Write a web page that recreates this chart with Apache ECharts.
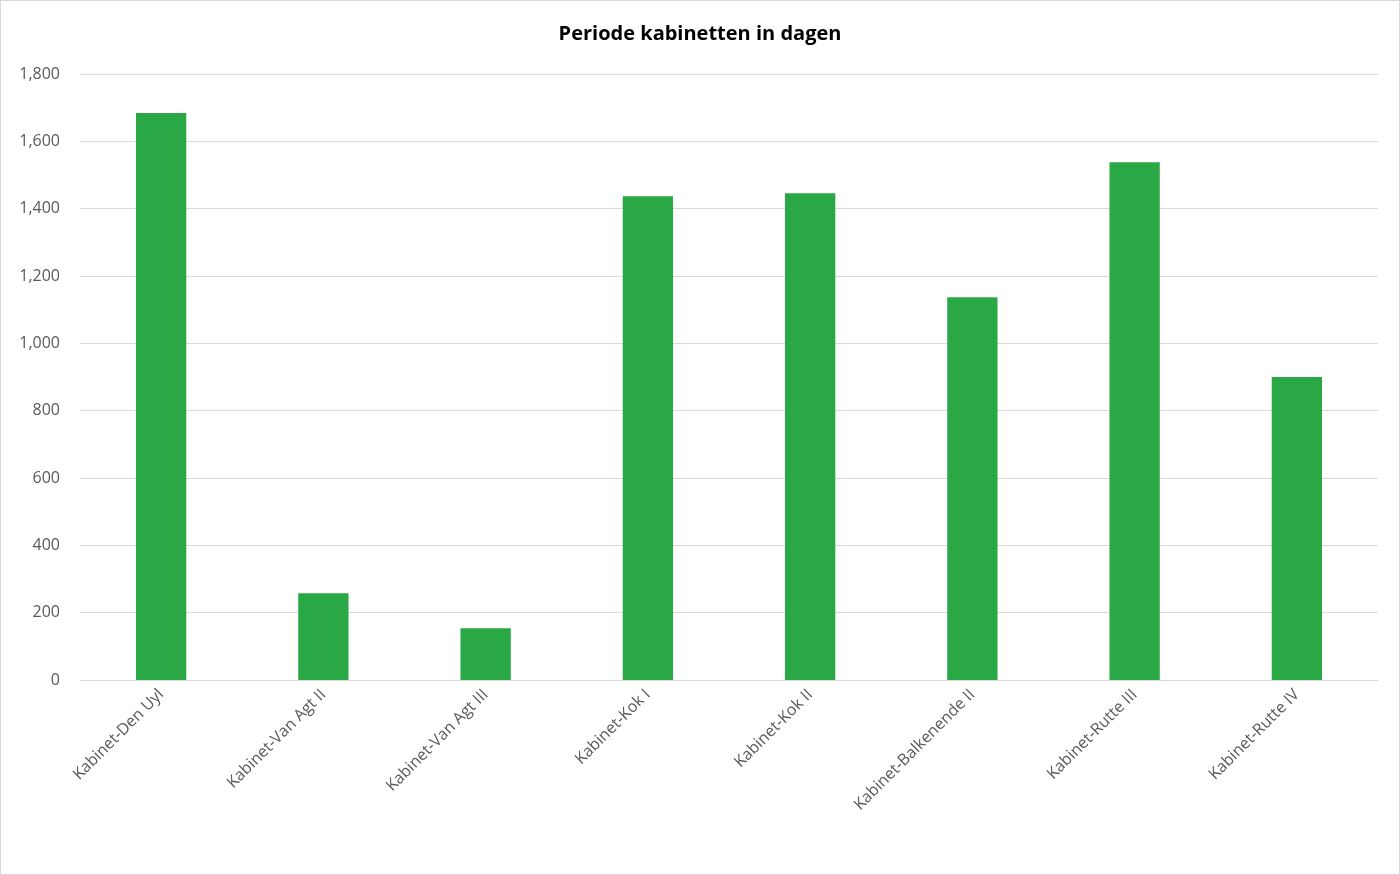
<!DOCTYPE html>
<html><head><meta charset="utf-8">
<script src="https://cdn.jsdelivr.net/npm/echarts@6/dist/echarts.min.js"></script>
<style>html,body{margin:0;padding:0;background:#fff}#c{width:1398px;height:873px;border:1px solid #d9d9d9}</style>
</head><body><div id="c"></div>
<script>
const categories = ["Kabinet-Den Uyl","Kabinet-Van Agt II","Kabinet-Van Agt III","Kabinet-Kok I","Kabinet-Kok II","Kabinet-Balkenende II","Kabinet-Rutte III","Kabinet-Rutte IV"];
const values = [1684, 258, 154, 1437, 1446, 1137, 1538, 900];
const chart = echarts.init(document.getElementById('c'));
chart.setOption({
  title:{text:'Periode kabinetten in dagen',left:'center',top:18,textStyle:{fontFamily:'Open Sans',fontSize:20,fontWeight:'bold',color:'#000'}},
  grid:{left:79,right:21,top:73,bottom:194},
  xAxis:{type:'category',data:categories,axisTick:{show:false},axisLine:{lineStyle:{color:'#d9d9d9'}},
    axisLabel:{rotate:45,color:'#595959',fontSize:16,fontFamily:'Open Sans',margin:12}},
  yAxis:{type:'value',min:0,max:1800,interval:200,axisLabel:{color:'#595959',fontSize:16,fontFamily:'Open Sans',margin:20},
    splitLine:{lineStyle:{color:'#d9d9d9'}}},
  series:[{type:'bar',data:values,barWidth:'31%',itemStyle:{color:'#2aa846'}}]
});
</script></body></html>
